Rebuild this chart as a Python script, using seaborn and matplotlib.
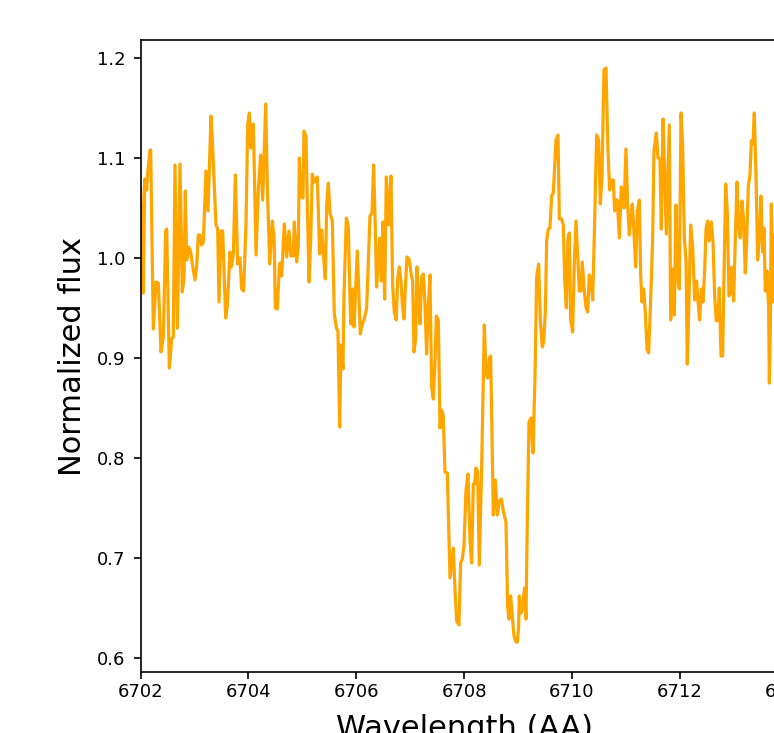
import numpy as np
import pandas as pd
import matplotlib
matplotlib.use("Agg")
import matplotlib.pyplot as plt
import seaborn as sns

# spectrum (wavelength in AA, normalized flux)
wavelength = [
    6702.000, 6702.049, 6702.074, 6702.111, 6702.123, 6702.173, 6702.185, 6702.234, 6702.284, 6702.327,
    6702.377, 6702.420, 6702.463, 6702.482, 6702.531, 6702.575, 6702.605, 6702.636, 6702.680, 6702.729,
    6702.772, 6702.804, 6702.828, 6702.853, 6702.890, 6702.927, 6702.958, 6703.007, 6703.038, 6703.069,
    6703.100, 6703.131, 6703.162, 6703.211, 6703.249, 6703.304, 6703.329, 6703.397, 6703.428, 6703.453,
    6703.490, 6703.521, 6703.576, 6703.607, 6703.657, 6703.682, 6703.719, 6703.756, 6703.799, 6703.842,
    6703.873, 6703.910, 6703.954, 6703.985, 6704.016, 6704.041, 6704.065, 6704.090, 6704.140, 6704.183,
    6704.226, 6704.263, 6704.319, 6704.350, 6704.393, 6704.443, 6704.474, 6704.498, 6704.535, 6704.572,
    6704.584, 6704.615, 6704.664, 6704.708, 6704.751, 6704.788, 6704.831, 6704.850, 6704.893, 6704.924,
    6704.943, 6704.974, 6705.011, 6705.029, 6705.066, 6705.122, 6705.153, 6705.184, 6705.221, 6705.246,
    6705.277, 6705.320, 6705.357, 6705.388, 6705.425, 6705.450, 6705.481, 6705.512, 6705.555, 6705.592,
    6705.635, 6705.660, 6705.691, 6705.716, 6705.753, 6705.771, 6705.815, 6705.852, 6705.895, 6705.932,
    6705.957, 6706.019, 6706.050, 6706.074, 6706.105, 6706.142, 6706.192, 6706.217, 6706.254, 6706.291,
    6706.322, 6706.353, 6706.377, 6706.408, 6706.439, 6706.464, 6706.495, 6706.526, 6706.557, 6706.600,
    6706.643, 6706.674, 6706.705, 6706.742, 6706.767, 6706.798, 6706.829, 6706.854, 6706.885, 6706.909,
    6706.940, 6706.977, 6707.021, 6707.045, 6707.070, 6707.101, 6707.126, 6707.157, 6707.181, 6707.212,
    6707.243, 6707.274, 6707.305, 6707.336, 6707.367, 6707.398, 6707.429, 6707.460, 6707.485, 6707.522,
    6707.553, 6707.583, 6707.614, 6707.645, 6707.689, 6707.738, 6707.769, 6707.800, 6707.831, 6707.862,
    6707.905, 6707.936, 6707.967, 6707.998, 6708.035, 6708.072, 6708.109, 6708.140, 6708.171, 6708.196,
    6708.220, 6708.251, 6708.282, 6708.326, 6708.375, 6708.406, 6708.437, 6708.468, 6708.493, 6708.542,
    6708.579, 6708.616, 6708.653, 6708.690, 6708.728, 6708.777, 6708.808, 6708.833, 6708.864, 6708.901,
    6708.925, 6708.963, 6708.987, 6709.012, 6709.024, 6709.049, 6709.074, 6709.099, 6709.123, 6709.148,
    6709.173, 6709.204, 6709.241, 6709.278, 6709.315, 6709.346, 6709.383, 6709.414, 6709.451, 6709.476,
    6709.507, 6709.532, 6709.563, 6709.593, 6709.624, 6709.655, 6709.680, 6709.705, 6709.742, 6709.767,
    6709.810, 6709.841, 6709.866, 6709.897, 6709.927, 6709.952, 6709.977, 6710.014, 6710.045, 6710.076,
    6710.107, 6710.138, 6710.169, 6710.193, 6710.230, 6710.261, 6710.292, 6710.323, 6710.354, 6710.385,
    6710.422, 6710.459, 6710.496, 6710.527, 6710.558, 6710.595, 6710.632, 6710.669, 6710.700, 6710.738,
    6710.768, 6710.793, 6710.818, 6710.843, 6710.880, 6710.917, 6710.948, 6710.966, 6711.003, 6711.034,
    6711.065, 6711.090, 6711.121, 6711.152, 6711.183, 6711.214, 6711.251, 6711.276, 6711.300, 6711.331,
    6711.362, 6711.393, 6711.424, 6711.461, 6711.498, 6711.523, 6711.566, 6711.597, 6711.634, 6711.659,
    6711.690, 6711.721, 6711.752, 6711.807, 6711.832, 6711.869, 6711.900, 6711.931, 6711.962, 6711.993,
    6712.024, 6712.055, 6712.086, 6712.117, 6712.141, 6712.172, 6712.203, 6712.240, 6712.277, 6712.314,
    6712.339, 6712.370, 6712.401, 6712.432, 6712.463, 6712.488, 6712.519, 6712.550, 6712.587, 6712.618,
    6712.648, 6712.679, 6712.710, 6712.735, 6712.766, 6712.797, 6712.822, 6712.853, 6712.884, 6712.914,
    6712.945, 6712.970, 6713.001, 6713.032, 6713.063, 6713.094, 6713.125, 6713.156, 6713.186, 6713.217,
    6713.242, 6713.273, 6713.304, 6713.329, 6713.360, 6713.384, 6713.415, 6713.446, 6713.477, 6713.508,
    6713.539, 6713.564, 6713.588, 6713.619, 6713.650, 6713.663, 6713.681, 6713.700, 6713.725, 6713.737,
    6713.780, 6713.830, 6713.880, 6713.930, 6713.980,
]
flux = [
    1.070, 0.965, 1.079, 1.068, 1.081, 1.108, 1.108, 0.929, 0.976, 0.975,
    0.906, 0.921, 1.027, 1.029, 0.890, 0.919, 0.921, 1.093, 0.930, 1.094,
    0.966, 0.980, 1.067, 0.998, 1.011, 1.006, 0.994, 0.978, 0.991, 1.023,
    1.023, 1.013, 1.016, 1.087, 1.047, 1.142, 1.118, 1.033, 1.029, 0.956,
    1.027, 1.027, 0.940, 0.952, 1.006, 0.991, 1.004, 1.083, 0.994, 1.000,
    0.969, 0.967, 1.035, 1.134, 1.145, 1.110, 1.132, 1.134, 1.003, 1.070,
    1.103, 1.058, 1.154, 1.070, 0.994, 1.037, 1.020, 0.950, 0.949, 0.991,
    0.995, 0.982, 1.034, 1.001, 1.027, 1.002, 1.002, 1.036, 0.996, 1.012,
    1.100, 1.062, 1.060, 1.127, 1.122, 0.976, 1.016, 1.084, 1.076, 1.077,
    1.081, 1.004, 1.028, 1.004, 0.979, 1.052, 1.075, 1.045, 1.037, 0.944,
    0.929, 0.927, 0.831, 0.913, 0.889, 0.962, 1.040, 1.031, 0.934, 0.969,
    0.931, 1.007, 0.960, 0.924, 0.933, 0.938, 0.950, 0.987, 1.042, 1.045,
    1.093, 1.029, 0.971, 0.998, 1.020, 0.977, 1.036, 0.959, 1.081, 1.033,
    1.082, 0.973, 0.946, 0.938, 0.979, 0.991, 0.977, 0.954, 0.939, 0.969,
    1.001, 0.999, 0.983, 0.977, 0.906, 0.919, 0.991, 0.955, 0.934, 0.981,
    0.984, 0.954, 0.904, 0.952, 0.983, 0.871, 0.859, 0.896, 0.942, 0.938,
    0.830, 0.848, 0.842, 0.786, 0.785, 0.680, 0.695, 0.710, 0.668, 0.637,
    0.633, 0.695, 0.699, 0.712, 0.768, 0.784, 0.718, 0.695, 0.774, 0.774,
    0.790, 0.786, 0.693, 0.792, 0.933, 0.884, 0.880, 0.900, 0.902, 0.743,
    0.778, 0.743, 0.757, 0.759, 0.747, 0.736, 0.651, 0.639, 0.662, 0.637,
    0.622, 0.616, 0.616, 0.631, 0.662, 0.645, 0.647, 0.660, 0.670, 0.639,
    0.739, 0.836, 0.840, 0.805, 0.880, 0.981, 0.994, 0.938, 0.911, 0.916,
    0.946, 1.018, 1.029, 1.030, 1.062, 1.065, 1.091, 1.118, 1.123, 1.039,
    1.039, 1.033, 0.979, 0.950, 1.020, 1.025, 0.938, 0.926, 0.996, 1.037,
    1.002, 0.967, 0.967, 0.996, 0.967, 0.951, 0.946, 0.983, 0.979, 0.958,
    1.037, 1.123, 1.118, 1.054, 1.081, 1.188, 1.190, 1.108, 1.068, 1.078,
    1.078, 1.047, 1.058, 1.058, 1.020, 1.071, 1.064, 1.050, 1.109, 1.054,
    1.023, 1.039, 1.054, 1.025, 0.991, 1.047, 1.058, 0.983, 0.956, 0.969,
    0.946, 0.909, 0.905, 0.958, 1.020, 1.108, 1.125, 1.100, 1.099, 1.029,
    1.139, 1.087, 1.024, 1.133, 0.938, 0.989, 0.943, 1.053, 0.979, 0.969,
    1.145, 1.112, 1.020, 0.998, 0.894, 0.958, 1.033, 1.012, 0.958, 0.977,
    0.958, 0.938, 0.969, 0.956, 0.987, 1.029, 1.037, 1.017, 1.036, 1.016,
    0.962, 0.937, 0.938, 0.970, 0.902, 0.902, 0.983, 1.074, 1.045, 0.962,
    0.965, 0.991, 0.957, 1.020, 1.076, 1.030, 1.020, 1.057, 1.037, 0.985,
    1.016, 1.072, 1.083, 1.117, 1.114, 1.145, 1.083, 0.998, 1.020, 1.062,
    1.006, 1.030, 0.967, 0.987, 0.950, 0.875, 0.929, 1.054, 0.956, 1.023,
    0.990, 1.010, 0.975, 1.000, 0.985,
]

spec = pd.DataFrame({"wavelength": wavelength, "flux": flux})

fig = plt.figure(figsize=(7.74, 7.33), dpi=100)
ax = fig.add_axes([140.7 / 774, 61 / 733, 646.8 / 774, 632 / 733])

sns.lineplot(data=spec, x="wavelength", y="flux", color="orange",
             linewidth=2.3, sort=False, estimator=None, ax=ax)

ax.set_xlim(6702, 6714)
ax.set_ylim(0.586, 1.218)
ax.set_xticks([6702, 6704, 6706, 6708, 6710, 6712, 6714])
ax.set_xlabel("Wavelength (AA)", fontsize=22, labelpad=9)
ax.set_ylabel("Normalized flux", fontsize=22, labelpad=7)
ax.tick_params(labelsize=13, length=4.7, width=1.2)
ax.tick_params(axis="y", pad=6.3)
for s in ax.spines.values():
    s.set_linewidth(1.2)

fig.savefig("out.png", dpi=100)
